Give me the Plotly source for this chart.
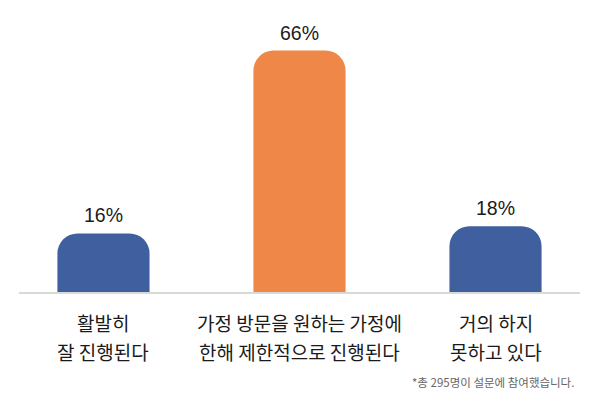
import plotly.graph_objects as go

# survey answers
categories = ["활발히 잘 진행된다", "가정 방문을 원하는 가정에 한해 제한적으로 진행된다", "거의 하지 못하고 있다"]
label_line1 = ["활발히", "가정 방문을 원하는 가정에", "거의 하지"]
label_line2 = ["잘 진행된다", "한해 제한적으로 진행된다", "못하고 있다"]
percents = [16, 66, 18]
bar_colors = ["#3F5F9F", "#EE8747", "#3F5F9F"]
footnote = "*총 295명이 설문에 참여했습니다."

KR_FONT = "Noto Sans CJK KR, Noto Sans, sans-serif"
NUM_FONT = "Liberation Sans, Arial, sans-serif"

x_pos = list(range(len(categories)))

fig = go.Figure(go.Bar(
    x=x_pos,
    y=percents,
    width=0.47,
    marker=dict(color=bar_colors, line=dict(width=0)),
    hovertext=categories,
    hoverinfo="text+y",
))

annotations = []
for xi, val in zip(x_pos, percents):
    annotations.append(dict(
        x=xi, y=val, xref="x", yref="y", text=f"{val}%",
        showarrow=False, yanchor="bottom", yshift=5,
        font=dict(family=NUM_FONT, size=19.5, color="#1a1a1a"),
    ))
for xi, l1, l2 in zip(x_pos, label_line1, label_line2):
    annotations.append(dict(
        x=xi, y=0, xref="x", yref="y", text=l1, showarrow=False,
        yanchor="middle", yshift=-30,
        font=dict(family=KR_FONT, size=19, color="#1a1a1a"),
    ))
    annotations.append(dict(
        x=xi, y=0, xref="x", yref="y", text=l2, showarrow=False,
        yanchor="middle", yshift=-59,
        font=dict(family=KR_FONT, size=19, color="#1a1a1a"),
    ))
annotations.append(dict(
    x=1, y=0, xref="paper", yref="y", text=footnote, showarrow=False,
    xanchor="right", yanchor="middle", xshift=-4, yshift=-90,
    font=dict(family=KR_FONT, size=11.5, color="#666666"),
))

# page body has an 8px margin, so the figure is a bit smaller than the window
fig.update_layout(
    width=592, height=408,
    margin=dict(l=11, r=20, t=10, b=123.5),
    paper_bgcolor="white", plot_bgcolor="white",
    barcornerradius=20,
    showlegend=False,
    annotations=annotations,
    xaxis=dict(range=[-0.431, 2.431], showticklabels=False, showgrid=False,
               zeroline=False, showline=True, linecolor="#d9d9d9", linewidth=2,
               ticks="", fixedrange=True),
    yaxis=dict(range=[0, 74.9], visible=False, fixedrange=True),
)

fig.write_html("out.html")
